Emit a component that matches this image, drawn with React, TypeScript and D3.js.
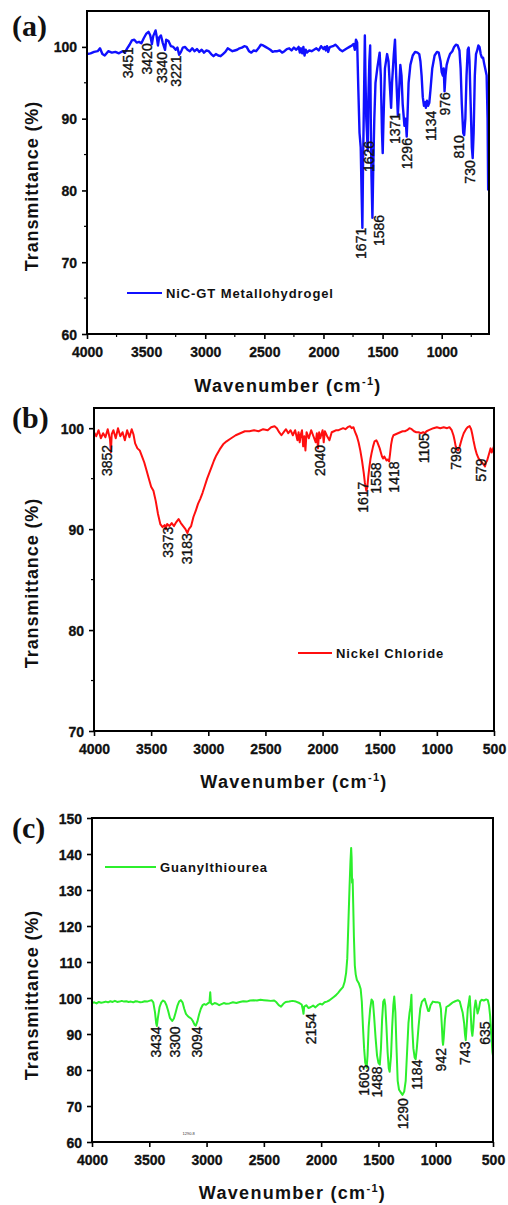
import { useEffect, useRef } from 'react';
import * as d3 from 'd3';

// ---- (a) NiC-GT Metallohydrogel ----
const waveA = [
  4000, 3970, 3940, 3910, 3890, 3870, 3850, 3820, 3790, 3760, 3730, 3700, 3680, 3660, 3640, 3620, 3600,
  3580, 3560, 3540, 3520, 3500, 3480, 3465, 3451, 3440, 3420, 3410, 3400, 3390, 3375, 3360, 3340, 3330,
  3310, 3290, 3270, 3250, 3235, 3221, 3205, 3190, 3170, 3150, 3130, 3110, 3090, 3070, 3050, 3030, 3010,
  2990, 2970, 2950, 2930, 2910, 2890, 2870, 2850, 2830, 2810, 2790, 2770, 2750, 2730, 2710, 2690, 2670,
  2650, 2630, 2610, 2590, 2570, 2550, 2530, 2510, 2490, 2470, 2450, 2430, 2410, 2390, 2370, 2350, 2330,
  2310, 2290, 2270, 2250, 2230, 2210, 2200, 2190, 2180, 2170, 2160, 2150, 2140, 2120, 2100, 2080, 2060,
  2040, 2020, 2000, 1990, 1980, 1970, 1960, 1950, 1940, 1920, 1900, 1880, 1860, 1840, 1820, 1800, 1780,
  1760, 1745, 1735, 1725, 1715, 1705, 1695, 1685, 1678, 1671, 1665, 1658, 1650, 1645, 1638, 1632, 1626,
  1620, 1612, 1605, 1600, 1594, 1586, 1578, 1570, 1560, 1545, 1525, 1515, 1505, 1499, 1492, 1480, 1462,
  1450, 1440, 1428, 1420, 1405, 1395, 1385, 1371, 1360, 1350, 1340, 1330, 1315, 1305, 1296, 1290, 1280,
  1265, 1245, 1225, 1205, 1190, 1180, 1170, 1160, 1150, 1140, 1134, 1125, 1115, 1105, 1095, 1080, 1060,
  1040, 1025, 1010, 1000, 990, 983, 976, 968, 958, 945, 930, 910, 895, 880, 865, 850, 840, 830, 818, 810,
  800, 790, 780, 772, 765, 755, 745, 738, 730, 720, 710, 700, 690, 680, 670, 660, 650, 640, 630, 620,
  612, 607,
];
const transA = [
  99.0, 99.1, 99.3, 99.4, 99.8, 99.0, 98.8, 99.4, 99.2, 99.3, 99.1, 99.4, 99.2, 99.8, 100.3, 100.9, 101.0,
  100.6, 100.7, 100.5, 101.2, 101.8, 102.1, 101.6, 100.4, 101.5, 102.3, 101.4, 100.2, 101.3, 101.6, 100.6, 99.6, 101.0,
  100.8, 100.1, 100.0, 99.6, 99.9, 98.9, 99.3, 99.9, 100.0, 99.6, 99.4, 99.8, 99.4, 99.7, 99.3, 99.6, 99.2,
  99.5, 99.4, 99.0, 98.7, 99.0, 98.8, 98.7, 99.0, 99.3, 99.8, 99.6, 99.4, 99.5, 99.6, 99.8, 99.9, 100.1,
  100.0, 99.4, 99.2, 99.5, 99.4, 99.8, 100.3, 100.2, 100.0, 99.8, 99.6, 99.3, 99.4, 99.4, 99.5, 99.2, 99.4,
  99.7, 99.8, 99.5, 99.9, 99.6, 100.0, 99.2, 99.8, 99.1, 100.0, 98.8, 99.6, 99.2, 99.5, 99.4, 99.6, 99.8,
  99.5, 100.1, 99.7, 100.0, 99.5, 100.1, 99.3, 99.9, 100.0, 100.1, 100.3, 100.0, 99.6, 99.4, 99.6, 99.8, 100.0,
  100.2, 100.4, 99.6, 101.0, 100.6, 94.0, 88.0, 86.0, 80.0, 74.8, 84.0, 92.0, 101.6, 96.0, 90.0, 88.0, 85.5,
  93.0, 98.0, 100.2, 90.0, 82.0, 76.2, 84.0, 90.0, 95.0, 97.0, 99.2, 96.0, 88.0, 85.2, 90.0, 97.0, 99.0,
  98.0, 95.0, 91.5, 95.0, 99.0, 101.0, 96.0, 90.5, 94.0, 97.5, 96.0, 92.0, 89.0, 90.0, 87.5, 90.0, 95.0,
  97.5, 98.8, 99.3, 99.2, 99.0, 98.0, 96.0, 93.0, 91.8, 92.3, 91.5, 92.5, 91.8, 92.2, 94.0, 97.0, 98.8,
  99.3, 99.2, 98.0, 96.5, 96.0, 97.0, 93.8, 96.0, 97.5, 98.3, 99.0, 99.4, 100.0, 100.3, 100.2, 99.5, 97.0, 92.0, 88.0, 87.7,
  90.0, 96.0, 99.6, 99.9, 98.0, 92.0, 86.0, 84.5, 88.0, 96.0, 99.0, 99.5, 100.2, 100.0, 99.0, 98.5, 98.5, 97.6, 96.8, 96.0,
  90.0, 80.0,
];
const peaksA = ['3451', '3420', '3340', '3221', '1671', '1626', '1586', '1371', '1296', '1134', '976', '810', '730'];
const peakAtA = [3653, 3493, 3366, 3247, 1683, 1615, 1530, 1395, 1294, 1091, 972, 854, 761];
const peakTopA = [99.96, 100.5, 99.3, 98.8, 74.8, 86.9, 76.6, 90.8, 87.3, 91.1, 93.7, 87.7, 84.2];

// ---- (b) Nickel Chloride ----
const waveB = [
  4000, 3980, 3960, 3940, 3920, 3900, 3880, 3860, 3852, 3845, 3830, 3810, 3790, 3770, 3750, 3730, 3710,
  3690, 3670, 3655, 3640, 3620, 3600, 3580, 3560, 3540, 3520, 3500, 3480, 3460, 3440, 3420, 3400, 3380,
  3373, 3360, 3340, 3320, 3300, 3280, 3260, 3240, 3220, 3200, 3183, 3170, 3150, 3130, 3110, 3090, 3070,
  3050, 3030, 3010, 2990, 2970, 2950, 2930, 2900, 2870, 2840, 2800, 2760, 2720, 2680, 2640, 2600, 2560,
  2520, 2480, 2450, 2420, 2400, 2380, 2360, 2340, 2320, 2300, 2280, 2260, 2240, 2220, 2210, 2200, 2190,
  2180, 2170, 2160, 2150, 2140, 2120, 2100, 2080, 2060, 2050, 2040, 2030, 2020, 2000, 1990, 1980, 1960,
  1940, 1920, 1900, 1880, 1860, 1840, 1820, 1800, 1780, 1760, 1745, 1730, 1715, 1700, 1685, 1670, 1655,
  1640, 1630, 1617, 1608, 1600, 1590, 1580, 1570, 1558, 1545, 1530, 1520, 1510, 1500, 1490, 1480, 1470,
  1460, 1450, 1440, 1430, 1418, 1410, 1400, 1390, 1380, 1360, 1340, 1320, 1300, 1280, 1260, 1240, 1220,
  1200, 1180, 1160, 1140, 1120, 1105, 1090, 1070, 1050, 1030, 1000, 970, 940, 910, 890, 870, 855, 845,
  835, 825, 814, 800, 790, 780, 765, 745, 730, 713, 700, 690, 680, 665, 650, 635, 620, 605, 590, 579,
  570, 560, 550, 540, 530, 520, 510, 500,
];
const transB = [
  99.6, 99.2, 99.8, 99.0, 99.5, 99.1, 99.9, 98.9, 97.6, 99.4, 99.8, 99.0, 100.0, 99.2, 99.6, 98.8, 99.8,
  99.1, 99.9, 99.4, 98.5, 98.0, 97.8, 97.2, 96.6, 95.8, 95.0, 94.2, 93.8, 92.8, 91.5, 90.5, 90.2, 90.4,
  90.0, 90.5, 90.3, 90.6, 90.3, 90.7, 91.0, 90.6, 90.3, 90.0, 89.6, 90.0, 90.3, 91.2, 91.8, 92.5, 93.0,
  93.6, 94.3, 95.0, 95.6, 96.2, 96.8, 97.3, 97.9, 98.4, 98.7, 99.0, 99.3, 99.5, 99.7, 99.7, 99.8, 99.7,
  99.9, 99.8, 100.1, 100.2, 100.0, 99.6, 99.3, 99.6, 99.9, 99.5, 99.8, 99.3, 99.8, 98.8, 99.6, 98.6, 99.4,
  99.8, 98.2, 99.2, 97.8, 99.6, 99.0, 99.8, 99.2, 98.6, 99.5, 98.0, 99.6, 99.0, 99.8, 98.6, 99.7, 99.2,
  98.8, 99.6, 99.7, 99.8, 99.8, 99.9, 100.0, 99.9, 100.1, 100.2, 100.0, 100.1, 99.6, 99.2, 98.6, 97.8, 96.8,
  95.6, 94.6, 93.8, 94.2, 95.2, 96.2, 97.0, 97.6, 98.2, 98.7, 98.8, 98.6, 98.3, 98.0, 97.6, 97.2, 97.0,
  97.2, 97.0, 96.8, 96.9, 96.7, 97.4, 98.4, 99.0, 99.3, 99.4, 99.5, 99.6, 99.7, 99.7, 99.8, 100.0, 99.9,
  99.7, 99.6, 99.6, 99.5, 99.6, 99.5, 99.7, 99.8, 99.9, 100.0, 100.1, 100.0, 100.1, 100.0, 100.1, 99.8, 99.3, 98.8,
  98.2, 97.9, 97.8, 98.2, 98.6, 99.0, 99.5, 99.9, 100.1, 100.2, 99.9, 99.4, 98.8, 98.0, 97.4, 97.0, 96.8, 96.6, 96.4, 96.2,
  96.6, 96.8, 97.2, 97.6, 98.0, 97.6, 97.9, 98.2,
];
const peaksB = ['3852', '3373', '3183', '2040', '1617', '1558', '1418', '1105', '798', '579'];
const peakAtB = [3889, 3350, 3184, 2024, 1651, 1534, 1374, 1115, 829, 616];
const peakTopB = [98.35, 90.25, 89.6, 98.35, 94.7, 96.6, 96.7, 99.5, 98.2, 97.0];

// ---- (c) Guanylthiourea ----
const waveC = [
  4000, 3980, 3960, 3940, 3920, 3900, 3880, 3860, 3840, 3820, 3800, 3780, 3760, 3740, 3720, 3700, 3680,
  3660, 3640, 3620, 3600, 3580, 3560, 3540, 3520, 3500, 3480, 3465, 3450, 3440, 3434, 3425, 3410, 3395,
  3380, 3365, 3350, 3335, 3320, 3300, 3285, 3270, 3255, 3240, 3225, 3210, 3195, 3180, 3165, 3150, 3135,
  3120, 3105, 3094, 3080, 3065, 3050, 3035, 3020, 3005, 2990, 2975, 2968, 2962, 2950, 2930, 2910, 2890,
  2870, 2850, 2830, 2800, 2770, 2740, 2710, 2680, 2650, 2620, 2590, 2560, 2530, 2500, 2470, 2440, 2410,
  2390, 2370, 2350, 2330, 2310, 2280, 2250, 2220, 2190, 2170, 2160, 2154, 2148, 2130, 2110, 2090, 2070,
  2050, 2030, 2010, 1990, 1970, 1950, 1930, 1910, 1890, 1870, 1850, 1830, 1810, 1795, 1782, 1772, 1762,
  1752, 1744, 1738, 1734, 1730, 1725, 1720, 1714, 1706, 1698, 1688, 1670, 1655, 1645, 1635, 1625, 1615,
  1603, 1595, 1585, 1572, 1560, 1548, 1538, 1525, 1512, 1500, 1488, 1478, 1468, 1458, 1448, 1440, 1430,
  1420, 1410, 1402, 1390, 1380, 1370, 1362, 1352, 1342, 1332, 1320, 1305, 1290, 1275, 1262, 1250, 1238,
  1228, 1220, 1212, 1205, 1195, 1184, 1175, 1165, 1150, 1135, 1120, 1096, 1080, 1066, 1058, 1045, 1025,
  1000, 980, 965, 955, 946, 940, 936, 930, 920, 907, 890, 870, 850, 830, 805, 790, 778, 765, 752, 745,
  738, 730, 720, 710, 703, 695, 687, 680, 672, 662, 652, 645, 635, 623, 612, 600, 580, 560, 545, 535,
  525, 515, 505, 500,
];
const transC = [
  98.6, 98.8, 98.5, 98.9, 98.7, 98.8, 99.0, 98.8, 99.1, 98.9, 99.2, 98.9, 99.0, 99.2, 99.0, 99.1, 98.9,
  99.0, 98.8, 99.1, 99.0, 98.8, 98.9, 99.1, 99.0, 99.2, 99.4, 98.8, 96.0, 93.0, 92.2, 94.5, 97.5, 98.8,
  99.3, 99.0, 98.0, 96.4, 94.5, 93.6, 94.3, 96.0, 97.8, 99.0, 99.4, 98.8, 97.0, 95.6, 95.0, 94.6, 94.3,
  93.6, 92.6, 92.3, 93.5, 95.5, 97.0, 98.0, 98.3, 98.1, 98.5, 98.8, 101.6, 98.6, 98.2, 98.6, 98.4, 98.0,
  98.3, 98.6, 98.4, 98.5, 98.8, 98.6, 98.9, 99.1, 99.0, 99.3, 99.4, 99.3, 99.5, 99.4, 99.3, 99.2, 99.3,
  98.8, 98.0, 97.6, 98.4, 98.9, 99.0, 99.2, 99.0, 98.6, 98.2, 96.8, 95.6, 97.6, 98.0, 97.2, 97.5, 97.9,
  97.4, 98.0, 98.4, 98.2, 98.8, 99.0, 99.3, 99.8, 100.3, 100.8, 101.5, 102.3, 103.0, 104.5, 107.0, 111.0, 121.0,
  131.0, 138.0, 141.7, 139.0, 132.0, 133.0, 126.0, 117.0, 109.0, 106.5, 105.0, 104.0, 102.5, 99.0, 92.0, 86.0, 82.0,
  80.6, 84.0, 92.0, 97.0, 99.6, 99.0, 95.0, 89.0, 84.0, 82.0, 81.5, 86.0, 94.0, 99.0, 99.6, 98.0, 92.0,
  85.0, 80.5, 79.5, 84.0, 92.0, 98.0, 100.4, 96.0, 86.0, 77.0, 74.5, 73.8, 73.1, 74.0, 77.0, 85.0, 93.0,
  96.0, 97.5, 100.9, 92.0, 86.0, 83.5, 83.0, 86.0, 92.0, 97.0, 99.0, 99.8, 98.0, 96.4, 96.4, 98.0, 99.0,
  98.8, 98.8, 98.6, 97.0, 92.0, 88.0, 87.0, 89.0, 94.0, 97.5, 97.8, 98.3, 98.8, 99.1, 99.4, 99.0, 97.5, 96.0, 93.0, 90.0,
  88.3, 92.0, 97.0, 99.0, 100.5, 96.0, 91.0, 89.5, 92.0, 97.0, 99.3, 98.0, 95.7, 97.0, 99.0, 99.5, 99.3, 99.6, 99.4, 98.0,
  95.0, 90.0, 85.0, 84.0,
];
const peaksC = ['3434', '3300', '3094', '2154', '1603', '1488', '1290', '1184', '942', '743', '635'];
const peakAtC = [3444, 3278, 3084, 2085, 1626, 1509, 1286, 1160, 950, 747, 572];
const peakTopC = [92.1, 92.1, 92.1, 95.8, 81.5, 81.0, 72.2, 82.9, 86.1, 87.9, 93.5];

const panels = [
  {
    tag: '(a)', name: 'NiC-GT Metallohydrogel', color: '#1010ff', width: 2.4,
    wave: waveA, trans: transA, peaks: peaksA, peakAt: peakAtA, peakTop: peakTopA,
    xDomain: [4000, 600], yDomain: [60, 105],
    xTicks: [4000, 3500, 3000, 2500, 2000, 1500, 1000],
    xMinor: [3750, 3250, 2750, 2250, 1750, 1250, 750],
    yTicks: [60, 70, 80, 90, 100], yMinor: [65, 75, 85, 95],
    box: { left: 87, right: 489, top: 11, bottom: 334 },
    tagY: 36, xTitleY: 392, yTitleY: 186,
    legend: { x0: 127, x1: 162, y: 293 },
  },
  {
    tag: '(b)', name: 'Nickel Chloride', color: '#ff0f0f', width: 2,
    wave: waveB, trans: transB, peaks: peaksB, peakAt: peakAtB, peakTop: peakTopB,
    xDomain: [4000, 500], yDomain: [70, 102],
    xTicks: [4000, 3500, 3000, 2500, 2000, 1500, 1000, 500], xMinor: [],
    yTicks: [70, 80, 90, 100], yMinor: [75, 85, 95],
    box: { left: 94, right: 494, top: 408, bottom: 731 },
    tagY: 428, xTitleY: 788, yTitleY: 583,
    legend: { x0: 298, x1: 332, y: 653 },
  },
  {
    tag: '(c)', name: 'Guanylthiourea', color: '#2cef2c', width: 2,
    wave: waveC, trans: transC, peaks: peaksC, peakAt: peakAtC, peakTop: peakTopC,
    xDomain: [4000, 500], yDomain: [60, 150],
    xTicks: [4000, 3500, 3000, 2500, 2000, 1500, 1000, 500], xMinor: [],
    yTicks: [60, 70, 80, 90, 100, 110, 120, 130, 140, 150], yMinor: [],
    box: { left: 92, right: 493, top: 818, bottom: 1142 },
    tagY: 838, xTitleY: 1199, yTitleY: 995,
    legend: { x0: 105, x1: 156, y: 867 },
  },
];

const SANS = 'Arial, "Liberation Sans", Helvetica, sans-serif';

const App = () => {
  const svgRef = useRef(null);

  useEffect(() => {
    const svg = d3.select(svgRef.current);
    svg.selectAll('*').remove();

    panels.forEach((p, pi) => {
      const { left, right, top, bottom } = p.box;
      const x = d3.scaleLinear().domain(p.xDomain).range([left, right]);
      const y = d3.scaleLinear().domain(p.yDomain).range([bottom, top]);
      const g = svg.append('g');

      g.append('clipPath').attr('id', `clip${pi}`)
        .append('rect').attr('x', left).attr('y', top)
        .attr('width', right - left).attr('height', bottom - top);

      // spectrum
      const pts = p.wave.map((w, i) => [w, p.trans[i]]);
      g.append('path')
        .datum(pts)
        .attr('clip-path', `url(#clip${pi})`)
        .attr('fill', 'none')
        .attr('stroke', p.color)
        .attr('stroke-width', p.width)
        .attr('stroke-linejoin', 'round')
        .attr('d', d3.line().x(d => x(d[0])).y(d => y(d[1])));

      // axes
      const xa = g.append('g')
        .attr('transform', `translate(0,${bottom})`)
        .call(d3.axisBottom(x).tickValues(p.xTicks).tickSize(5).tickPadding(5).tickFormat(d3.format('d')));
      const ya = g.append('g')
        .attr('transform', `translate(${left},0)`)
        .call(d3.axisLeft(y).tickValues(p.yTicks).tickSize(5).tickPadding(5).tickFormat(d3.format('d')));
      [xa, ya].forEach(a => {
        a.select('.domain').remove();
        a.selectAll('line').attr('stroke', '#000').attr('stroke-width', 1.6);
        a.selectAll('text')
          .attr('fill', '#111')
          .attr('stroke', '#111')
          .attr('stroke-width', 0.3)
          .style('font-family', SANS)
          .style('font-size', '14px')
          .style('font-weight', 'bold');
      });
      xa.selectAll('text').attr('dy', '0.95em');
      ya.selectAll('text').attr('dy', '0.36em');

      g.selectAll('.xminor').data(p.xMinor).enter().append('line')
        .attr('x1', d => x(d)).attr('x2', d => x(d))
        .attr('y1', bottom).attr('y2', bottom + 3)
        .attr('stroke', '#000').attr('stroke-width', 1.2);
      g.selectAll('.yminor').data(p.yMinor).enter().append('line')
        .attr('x1', left - 3).attr('x2', left)
        .attr('y1', d => y(d)).attr('y2', d => y(d))
        .attr('stroke', '#000').attr('stroke-width', 1.2);

      // frame
      g.append('rect')
        .attr('x', left).attr('y', top)
        .attr('width', right - left).attr('height', bottom - top)
        .attr('fill', 'none').attr('stroke', '#000').attr('stroke-width', 2);

      // peak labels
      g.selectAll('.peak').data(p.peaks).enter().append('text')
        .attr('transform', (d, i) => `translate(${x(p.peakAt[i])},${y(p.peakTop[i])}) rotate(-90)`)
        .attr('text-anchor', 'end')
        .attr('dy', '0.36em')
        .style('font-family', SANS)
        .style('font-size', '14px')
        .attr('fill', '#111')
        .attr('stroke', '#111')
        .attr('stroke-width', 0.35)
        .text(d => d);

      // legend
      g.append('line')
        .attr('x1', p.legend.x0).attr('x2', p.legend.x1)
        .attr('y1', p.legend.y).attr('y2', p.legend.y)
        .attr('stroke', p.color).attr('stroke-width', 2.2);
      g.append('text')
        .attr('x', p.legend.x1 + 4).attr('y', p.legend.y + 5)
        .style('font-family', SANS).style('font-size', '13px').style('font-weight', 'bold')
        .style('letter-spacing', '0.9px')
        .attr('fill', '#111')
        .text(p.name);

      // axis titles
      const xt = g.append('text')
        .attr('x', (left + right) / 2).attr('y', p.xTitleY)
        .attr('text-anchor', 'middle')
        .style('font-family', SANS).style('font-size', '18px').style('font-weight', 'bold')
        .style('letter-spacing', '1.3px')
        .attr('fill', '#111');
      xt.append('tspan').text('Wavenumber (cm');
      xt.append('tspan').attr('dy', -7).style('font-size', '11px').text('-1');
      xt.append('tspan').attr('dy', 7).text(')');

      g.append('text')
        .attr('transform', `translate(38,${p.yTitleY}) rotate(-90)`)
        .attr('text-anchor', 'middle')
        .style('font-family', SANS).style('font-size', '18px').style('font-weight', 'bold')
        .style('letter-spacing', '0.9px')
        .attr('fill', '#111')
        .text('Transmittance (%)');

      // panel tag
      g.append('text')
        .attr('x', 12).attr('y', p.tagY)
        .style('font-family', '"Liberation Serif", "Times New Roman", serif')
        .style('font-size', '30px').style('font-weight', 'bold')
        .attr('fill', '#111')
        .text(p.tag);

      if (pi === 2) {
        g.append('text')
          .attr('x', x(3156)).attr('y', y(62.0))
          .attr('text-anchor', 'middle')
          .style('font-family', SANS).style('font-size', '4px')
          .attr('fill', '#333')
          .text('1290.8');
      }
    });
  }, []);

  return (
    <svg ref={svgRef} width={508} height={1205}
      style={{ position: 'absolute', left: 0, top: 0, background: '#fff' }} />
  );
};

export default App;
